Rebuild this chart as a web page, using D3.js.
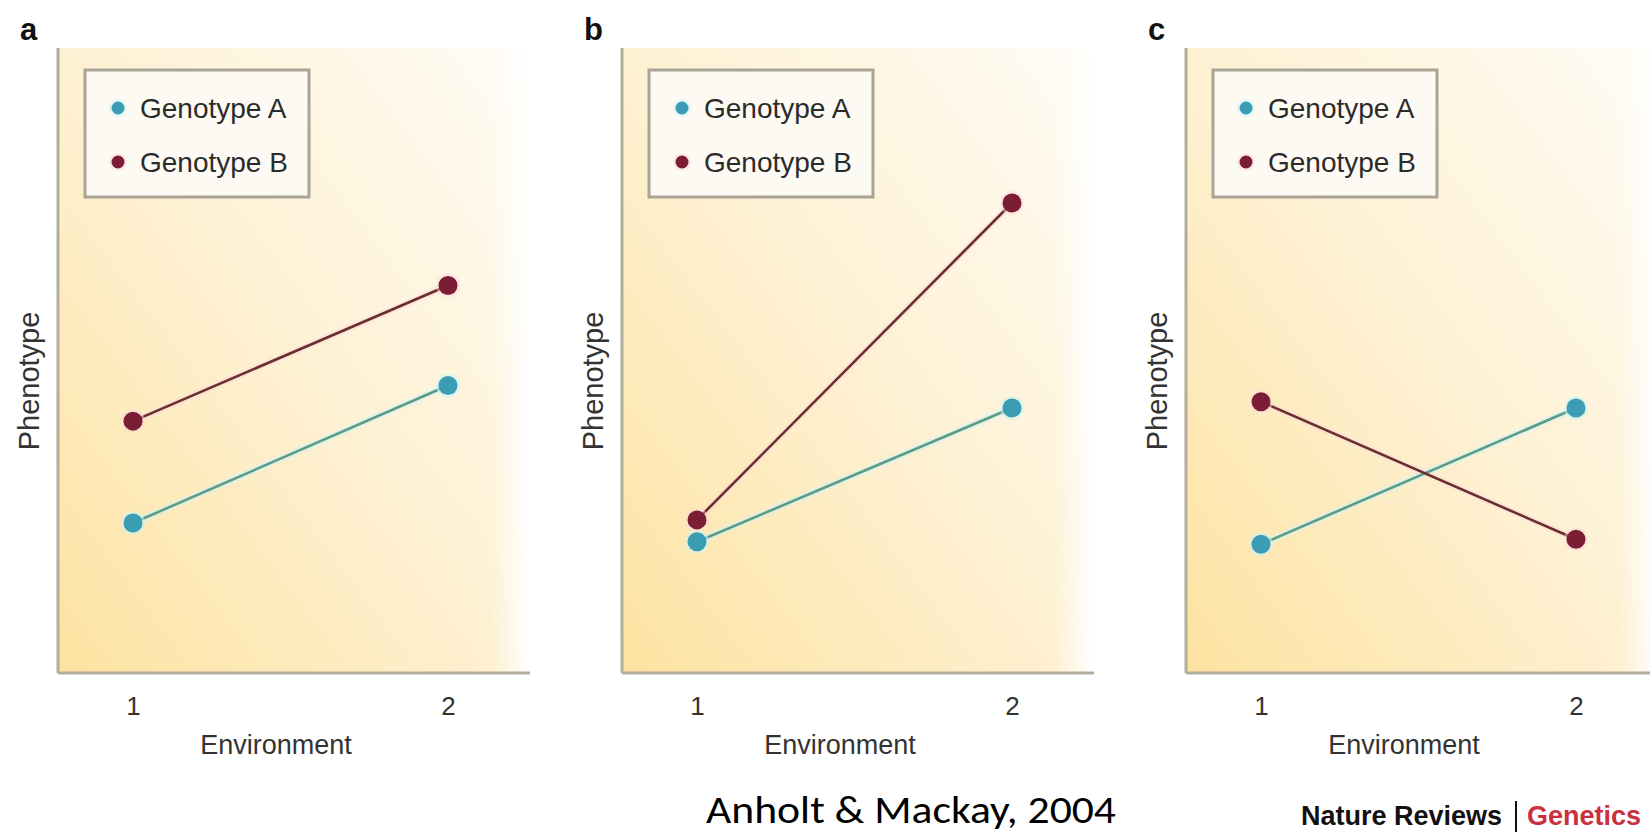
<!DOCTYPE html>
<html>
<head>
<meta charset="utf-8">
<script src="https://cdn.jsdelivr.net/npm/d3@7"></script>
<style>
  html, body { margin: 0; padding: 0; background: #ffffff; }
  svg { display: block; }
</style>
</head>
<body>
<script>
// Genotype-by-environment interaction: three reaction-norm panels
const panelLetters = ["a", "b", "c"];
const environments = [1, 2];
const genotypeNames = ["Genotype A", "Genotype B"];
// Phenotype (arbitrary units, 0–100) in environments 1 and 2, one pair per panel
const genotypeA = [[24.0, 46.0], [21.0, 42.4], [20.6, 42.4]];
const genotypeB = [[40.3, 62.0], [24.5, 75.2], [43.4, 21.4]];
const xAxisTitle = "Environment";
const yAxisTitle = "Phenotype";
const citation = "Anholt & Mackay, 2004";

const W = 1650, H = 832;
const FONT = "'Liberation Sans', Arial, Helvetica, sans-serif";
const colors = {
  dot: ["#3b9db3", "#7a1d35"],
  line: ["#5c9b86", "#6a2e2c"],
  halo: ["rgba(205,243,246,0.55)", "rgba(250,214,222,0.45)"],
  axis: "#b3ad9c",
  text: "#333333"
};

const svg = d3.select("body").append("svg")
  .attr("width", W).attr("height", H)
  .attr("viewBox", `0 0 ${W} ${H}`);

const defs = svg.append("defs");
// warm background: golden at bottom-left, fading to white at top-right
const bg = defs.append("linearGradient").attr("id", "bgGrad")
  .attr("x1", "0").attr("y1", "1").attr("x2", "1").attr("y2", "0");
bg.append("stop").attr("offset", "0").attr("stop-color", "#fde2a0");
bg.append("stop").attr("offset", "0.45").attr("stop-color", "#fef0cf");
bg.append("stop").attr("offset", "1").attr("stop-color", "#fffcf6");
const fadeR = defs.append("linearGradient").attr("id", "fadeRight")
  .attr("x1", "0").attr("y1", "0").attr("x2", "1").attr("y2", "0");
fadeR.append("stop").attr("offset", "0").attr("stop-color", "#ffffff").attr("stop-opacity", 0);
fadeR.append("stop").attr("offset", "1").attr("stop-color", "#ffffff").attr("stop-opacity", 1);

const panelLeft0 = 58, panelStep = 564;
const plotTop = 48, plotBottom = 673, plotWidth = 472;

const x = d3.scaleLinear().domain([1, 2]).range([75, 390]);
const y = d3.scaleLinear().domain([0, 100]).range([plotBottom, plotTop]);

panelLetters.forEach((letter, i) => {
  const left = panelLeft0 + i * panelStep;
  const g = svg.append("g").attr("transform", `translate(${left},0)`);

  // plot background
  g.append("rect").attr("x", 0).attr("y", plotTop)
    .attr("width", plotWidth).attr("height", plotBottom - plotTop)
    .attr("fill", "url(#bgGrad)");
  g.append("rect").attr("x", plotWidth - 40).attr("y", plotTop)
    .attr("width", 40).attr("height", plotBottom - plotTop)
    .attr("fill", "url(#fadeRight)");

  // axes lines
  g.append("line").attr("x1", 0).attr("x2", 0)
    .attr("y1", plotTop).attr("y2", plotBottom)
    .attr("stroke", colors.axis).attr("stroke-width", 3);
  g.append("line").attr("x1", 0).attr("x2", plotWidth)
    .attr("y1", plotBottom).attr("y2", plotBottom)
    .attr("stroke", colors.axis).attr("stroke-width", 3);

  // x tick labels
  const ax = g.append("g").attr("transform", `translate(0,${plotBottom})`)
    .call(d3.axisBottom(x).tickValues(environments).tickFormat(d3.format("d"))
      .tickSize(0).tickSizeOuter(0));
  ax.select(".domain").remove();
  ax.selectAll("text")
    .attr("y", 42).attr("dy", null)
    .attr("fill", colors.text)
    .style("font-family", FONT).style("font-size", "26px");

  // axis titles
  g.append("text").attr("x", 218).attr("y", 754)
    .attr("text-anchor", "middle").attr("fill", colors.text)
    .style("font-family", FONT).style("font-size", "27px")
    .text(xAxisTitle);
  g.append("text")
    .attr("transform", `translate(-19,381) rotate(-90)`)
    .attr("text-anchor", "middle").attr("fill", colors.text)
    .style("font-family", FONT).style("font-size", "29px")
    .text(yAxisTitle);

  // panel letter
  g.append("text").attr("x", -38).attr("y", 40)
    .attr("fill", "#111").style("font-family", FONT)
    .style("font-size", "31px").style("font-weight", "bold")
    .text(letter);

  // legend
  const lg = g.append("g");
  lg.append("rect").attr("x", 27).attr("y", 70).attr("width", 224).attr("height", 127)
    .attr("fill", "#fdfaf3").attr("stroke", "#a9a495").attr("stroke-width", 3);
  genotypeNames.forEach((name, k) => {
    const cy = 108 + k * 54;
    lg.append("circle").attr("cx", 60).attr("cy", cy).attr("r", 9)
      .attr("fill", colors.halo[k]);
    lg.append("circle").attr("cx", 60).attr("cy", cy).attr("r", 6.5)
      .attr("fill", colors.dot[k]);
    lg.append("text").attr("x", 82).attr("y", cy).attr("dy", "0.36em")
      .attr("fill", "#2b2b2b").style("font-family", FONT).style("font-size", "28px")
      .text(name);
  });

  // reaction norms
  const series = [genotypeA[i], genotypeB[i]];
  const line = d3.line().x((d, j) => x(environments[j])).y(d => y(d));
  series.forEach((vals, k) => {
    g.append("path").datum(vals).attr("d", line)
      .attr("fill", "none").attr("stroke", colors.halo[k]).attr("stroke-width", 7);
  });
  series.forEach((vals, k) => {
    g.append("path").datum(vals).attr("d", line)
      .attr("fill", "none").attr("stroke", colors.line[k]).attr("stroke-width", 2.6);
  });
  series.forEach((vals, k) => {
    g.selectAll(null).data(vals).enter().append("circle")
      .attr("cx", (d, j) => x(environments[j])).attr("cy", d => y(d))
      .attr("r", 12).attr("fill", colors.halo[k]);
    g.selectAll(null).data(vals).enter().append("circle")
      .attr("cx", (d, j) => x(environments[j])).attr("cy", d => y(d))
      .attr("r", 9.5).attr("fill", colors.dot[k]);
  });
});

// citation
svg.append("text").attr("x", 911).attr("y", 823)
  .attr("text-anchor", "middle").attr("fill", "#000")
  .style("font-family", "Carlito, Calibri, Lato, 'Open Sans', sans-serif")
  .style("font-size", "38px")
  .attr("textLength", 410).attr("lengthAdjust", "spacingAndGlyphs")
  .text(citation);

// journal credit
const credit = svg.append("g").style("font-family", "'Liberation Sans', Arial, Helvetica, sans-serif")
  .style("font-weight", "bold").style("font-size", "27px");
credit.append("text").attr("x", 1301).attr("y", 825).attr("fill", "#111")
  .text("Nature Reviews");
credit.append("line").attr("x1", 1516).attr("x2", 1516).attr("y1", 801).attr("y2", 832)
  .attr("stroke", "#111").attr("stroke-width", 2);
credit.append("text").attr("x", 1527).attr("y", 825).attr("fill", "#cc2f3e")
  .text("Genetics");
</script>
</body>
</html>
